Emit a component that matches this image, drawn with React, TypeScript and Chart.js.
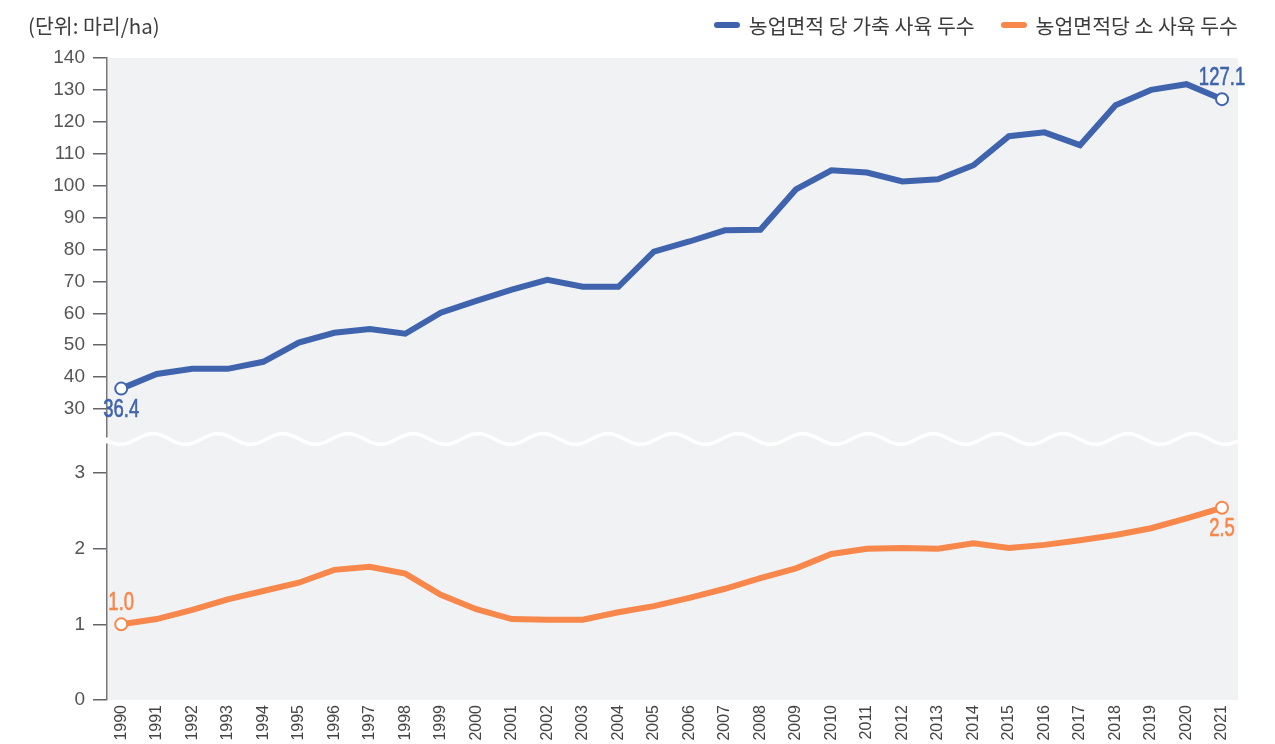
import React, { useEffect, useRef } from "react";
import { Chart, registerables } from "chart.js";

Chart.register(...registerables);

// ---- data ----
const years = [
  1990, 1991, 1992, 1993, 1994, 1995, 1996, 1997, 1998, 1999, 2000,
  2001, 2002, 2003, 2004, 2005, 2006, 2007, 2008, 2009, 2010,
  2011, 2012, 2013, 2014, 2015, 2016, 2017, 2018, 2019, 2020, 2021,
];
const livestockPerHa = [
  36.4, 41.0, 42.6, 42.6, 44.8, 50.8, 53.9, 55.1, 53.6, 60.2, 63.9,
  67.4, 70.5, 68.3, 68.3, 79.3, 82.5, 86.0, 86.2, 98.8, 104.8,
  104.1, 101.3, 102.0, 106.4, 115.5, 116.7, 112.7, 125.2, 130.0, 131.8, 127.1,
];
const cattlePerHa = [
  1.0, 1.07, 1.19, 1.33, 1.44, 1.55, 1.72, 1.76, 1.67, 1.39, 1.2,
  1.07, 1.06, 1.06, 1.16, 1.24, 1.35, 1.47, 1.61, 1.74, 1.93,
  2.0, 2.01, 2.0, 2.07, 2.01, 2.05, 2.11, 2.18, 2.27, 2.4, 2.54,
];
const seriesNames = ["농업면적 당 가축 사육 두수", "농업면적당 소 사육 두수"];
const topTicks = [30, 40, 50, 60, 70, 80, 90, 100, 110, 120, 130, 140];
const bottomTicks = [0, 1, 2, 3];
const unitLabel = "(단위: 마리/ha)";

const BLUE = "#3f64ad";
const ORANGE = "#f7874a";
const NUM_FONT = '"Liberation Sans Narrow", "Liberation Sans", Arial, sans-serif';
const KR_FONT = '"Noto Sans CJK KR", "Noto Sans", sans-serif';

const bgPlugin = {
  id: "plotBg",
  beforeDraw(chart: any) {
    const { ctx, chartArea: a } = chart;
    ctx.save();
    ctx.fillStyle = "#f1f2f4";
    ctx.fillRect(a.left, a.top, a.right - a.left, a.bottom - a.top);
    ctx.restore();
  },
};

const breakPlugin = {
  id: "axisBreak",
  afterDraw(chart: any) {
    const { ctx, chartArea: a } = chart;
    const c = chart.scales.yTop.bottom - 1;
    const P = 65;
    const A = 5.3;
    const x0 = a.left + 46;
    ctx.save();
    ctx.fillStyle = "#ffffff";
    ctx.fillRect(a.left - 2, c - 1.5, 4, 6);
    ctx.beginPath();
    ctx.rect(a.left - 2, c - 20, a.right - a.left + 2, 40);
    ctx.clip();
    ctx.beginPath();
    for (let x = a.left - 1; x <= a.right; x += 1) {
      const y = c - A * Math.cos((2 * Math.PI * (x - x0)) / P);
      if (x === a.left - 1) ctx.moveTo(x, y);
      else ctx.lineTo(x, y);
    }
    ctx.strokeStyle = "#ffffff";
    ctx.lineWidth = 3.5;
    ctx.stroke();
    ctx.restore();
  },
};

const valueLabelPlugin = {
  id: "valueLabels",
  afterDatasetsDraw(chart: any) {
    const { ctx } = chart;
    chart.data.datasets.forEach((ds: any, i: number) => {
      const meta = chart.getDatasetMeta(i);
      const idxs = [0, meta.data.length - 1];
      idxs.forEach((idx, k) => {
        const pt = meta.data[idx];
        const v = ds.data[idx].y;
        const text = v.toFixed(1);
        const dy = ds.labelPlaces[k] === "below" ? 21 : -21;
        ctx.save();
        ctx.translate(pt.x, pt.y + dy);
        ctx.scale(0.74, 1);
        ctx.font = `25px ${NUM_FONT}`;
        ctx.fillStyle = ds.borderColor;
        ctx.strokeStyle = ds.borderColor;
        ctx.lineWidth = 0.6;
        ctx.textAlign = "center";
        ctx.textBaseline = "middle";
        ctx.fillText(text, 0, 0);
        ctx.strokeText(text, 0, 0);
        ctx.restore();
      });
    });
  },
};

function yAxis(min: number, max: number, ticks: number[], weight: number, stackWeight: number) {
  return {
    type: "linear",
    position: "left",
    stack: "y",
    stackWeight,
    weight,
    min,
    max,
    afterBuildTicks: (s: any) => {
      s.ticks = ticks.map((v) => ({ value: v }));
    },
    afterFit: (s: any) => {
      s.width = 107;
    },
    grid: {
      display: true,
      drawOnChartArea: false,
      drawTicks: true,
      tickLength: 14,
      color: "#666",
      lineWidth: 1.5,
    },
    border: { display: true, color: "#777", width: 1.5 },
    ticks: {
      autoSkip: false,
      padding: 8,
      color: "#555",
      font: { family: NUM_FONT, size: 19 },
      callback: (v: any) => String(v),
    },
  };
}

export default function App() {
  const ref = useRef<HTMLCanvasElement | null>(null);

  useEffect(() => {
    if (!ref.current) return;
    const edge = (ctx: any) =>
      ctx.dataIndex === 0 || ctx.dataIndex === years.length - 1 ? 6 : 0;
    const chart = new Chart(ref.current, {
      type: "line",
      data: {
        datasets: [
          {
            label: seriesNames[0],
            data: years.map((x, i) => ({ x, y: livestockPerHa[i] })),
            yAxisID: "yTop",
            borderColor: BLUE,
            borderWidth: 6,
            tension: 0,
            pointRadius: edge,
            pointHoverRadius: edge,
            pointBackgroundColor: "#ffffff",
            pointBorderColor: BLUE,
            pointBorderWidth: 2,
            labelPlaces: ["below", "above"],
          } as any,
          {
            label: seriesNames[1],
            data: years.map((x, i) => ({ x, y: cattlePerHa[i] })),
            yAxisID: "yBot",
            borderColor: ORANGE,
            borderWidth: 6,
            tension: 0,
            pointRadius: edge,
            pointHoverRadius: edge,
            pointBackgroundColor: "#ffffff",
            pointBorderColor: ORANGE,
            pointBorderWidth: 2,
            labelPlaces: ["above", "below"],
          } as any,
        ],
      },
      options: {
        responsive: false,
        animation: false,
        devicePixelRatio: 1,
        layout: { padding: { left: 0, top: 58, right: 37, bottom: 0 } },
        plugins: { legend: { display: false }, tooltip: { enabled: false } },
        scales: {
          x: {
            type: "linear",
            min: 1989.6,
            max: 2021.45,
            grid: { display: false, drawTicks: false },
            border: { display: false },
            afterBuildTicks: (s: any) => {
              s.ticks = years.map((v) => ({ value: v }));
            },
            afterFit: (s: any) => {
              s.height = 44;
            },
            ticks: {
              autoSkip: false,
              minRotation: 90,
              maxRotation: 90,
              padding: 5,
              color: "#444",
              font: { family: '"Liberation Sans", Arial, sans-serif', size: 16 },
              callback: (v: any) => String(v),
            },
          },
          yTop: yAxis(20.3, 140, topTicks, 2, 382) as any,
          yBot: yAxis(0, 3.436, bottomTicks, 1, 260) as any,
        },
      } as any,
      plugins: [bgPlugin, valueLabelPlugin, breakPlugin],
    });
    return () => chart.destroy();
  }, []);

  return (
    <div style={{ position: "absolute", left: 0, top: 0, width: 1275, height: 744, background: "#fff" }}>
      <canvas ref={ref} width={1275} height={744} style={{ position: "absolute", left: 0, top: 0, display: "block" }} />
      <div
        style={{
          position: "absolute",
          left: 28,
          top: 0,
          height: 50,
          display: "flex",
          alignItems: "center",
          fontFamily: KR_FONT,
          fontSize: 20.5,
          color: "#3c3c3c",
        }}
      >
        {unitLabel}
      </div>
      <div
        style={{
          position: "absolute",
          right: 37,
          top: 0,
          height: 50,
          display: "flex",
          alignItems: "center",
          fontFamily: KR_FONT,
          fontSize: 20.5,
          color: "#3c3c3c",
          whiteSpace: "nowrap",
        }}
      >
        {seriesNames.map((name, i) => (
          <div key={name} style={{ display: "flex", alignItems: "center", marginLeft: i === 0 ? 0 : 26 }}>
            <span
              style={{
                display: "inline-block",
                width: 26,
                height: 6,
                borderRadius: 3,
                background: i === 0 ? BLUE : ORANGE,
                marginRight: 9,
              }}
            />
            <span>{name}</span>
          </div>
        ))}
      </div>
    </div>
  );
}
